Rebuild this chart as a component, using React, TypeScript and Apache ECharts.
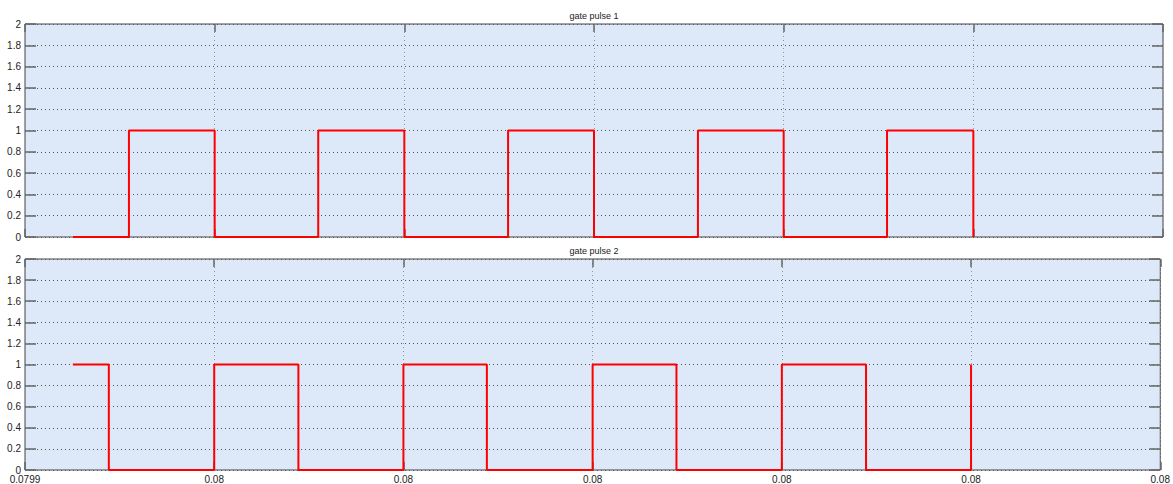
import React, { useEffect, useRef } from "react";
import * as echarts from "echarts";

const xTickLabels = ["0.0799", "0.08", "0.08", "0.08", "0.08", "0.08", "0.08"];
const titles = ["gate pulse 1", "gate pulse 2"];

const gate1T = [0.253, 0.548, 1.0, 1.546, 2.0, 2.547, 3.0, 3.548, 4.0, 4.545, 5.0];
const gate1V = [0, 1, 0, 1, 0, 1, 0, 1, 0, 1, 0];
const gate2T = [0.253, 0.443, 1.0, 1.445, 2.0, 2.441, 3.0, 3.443, 4.0, 4.445, 5.0];
const gate2V = [1, 0, 1, 0, 1, 0, 1, 0, 1, 0, 1];

const W = 1173;
const H = 484;
const LEFT = 25;
const PW = 1138;
const PH = 213;
const TOPS = [24, 259];
const FONT = "Liberation Sans, Arial, sans-serif";

export default function App() {
  const ref = useRef<HTMLDivElement>(null);
  useEffect(() => {
    if (!ref.current) return;
    const chart = echarts.init(ref.current, undefined, { renderer: "svg" });
    const series = [
      { t: gate1T, v: gate1V },
      { t: gate2T, v: gate2V },
    ];
    const grid: any[] = [];
    const xAxis: any[] = [];
    const yAxis: any[] = [];
    const ser: any[] = [];
    const title: any[] = [];
    TOPS.forEach((top, i) => {
      grid.push({
        left: LEFT,
        top,
        width: PW,
        height: PH,
        show: true,
        backgroundColor: "#dde9f8",
        borderColor: "#444",
        borderWidth: 1,
      });
      title.push({
        text: titles[i],
        left: LEFT + PW / 2,
        top: top - 13,
        padding: 0,
        textAlign: "center",
        textStyle: { fontSize: 9, fontWeight: "normal", color: "#222", fontFamily: FONT },
      });
      const baseX = {
        type: "value",
        gridIndex: i,
        min: 0,
        max: 6,
        interval: 1,
        axisLine: { show: false, onZero: false },
      };
      xAxis.push({
        ...baseX,
        position: "bottom",
        axisTick: { show: true, inside: true, length: 8, lineStyle: { color: "#666", width: 1.5 } },
        axisLabel: {
          show: i === 1,
          margin: 4,
          fontSize: 10,
          color: "#222",
          fontFamily: FONT,
          formatter: (v: number) => xTickLabels[Math.round(v)] ?? "",
        },
        splitLine: { show: true, lineStyle: { color: "#8a96a4", type: [1, 3], width: 1 } },
      });
      xAxis.push({
        ...baseX,
        position: "top",
        axisTick: { show: true, inside: true, length: 8, lineStyle: { color: "#666", width: 1.5 } },
        axisLabel: { show: false },
        splitLine: { show: false },
      });
      const baseY = {
        type: "value",
        gridIndex: i,
        min: 0,
        max: 2,
        interval: 0.2,
        axisLine: { show: false, onZero: false },
        axisTick: { show: true, inside: true, length: 11, lineStyle: { color: "#666", width: 1.5 } },
      };
      yAxis.push({
        ...baseY,
        position: "left",
        axisLabel: {
          margin: 4,
          fontSize: 10,
          color: "#222",
          fontFamily: FONT,
          formatter: (v: number) => String(parseFloat(v.toFixed(1))),
        },
        splitLine: { show: true, lineStyle: { color: "#555", type: [1, 3], width: 1 } },
      });
      yAxis.push({
        ...baseY,
        position: "right",
        axisLabel: { show: false },
        splitLine: { show: false },
      });
      ser.push({
        type: "line",
        xAxisIndex: i * 2,
        yAxisIndex: i * 2,
        step: "end",
        symbol: "none",
        lineStyle: { color: "#ff0000", width: 2 },
        data: series[i].t.map((t, k) => [t, series[i].v[k]]),
      });
    });
    chart.setOption({
      animation: false,
      backgroundColor: "#ffffff",
      title,
      grid,
      xAxis,
      yAxis,
      series: ser,
    });
    return () => chart.dispose();
  }, []);
  return (
    <div
      ref={ref}
      style={{ position: "absolute", left: 0, top: 0, width: W, height: H }}
    />
  );
}
